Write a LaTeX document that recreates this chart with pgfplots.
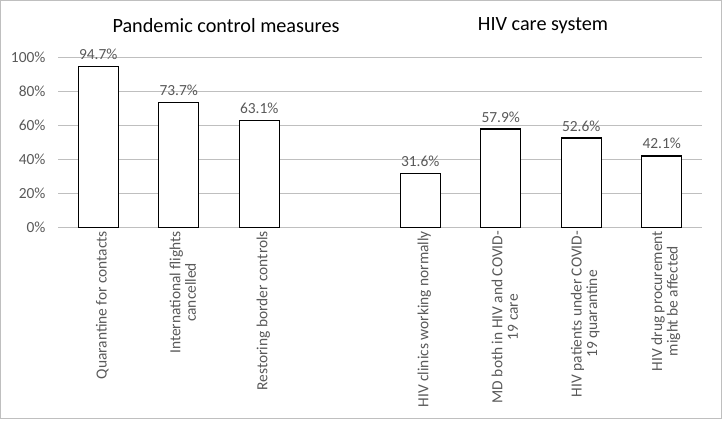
\documentclass[border=0pt]{standalone}
\usepackage{fontspec}
\setmainfont{Carlito}
\usepackage{pgfplots}
\pgfplotsset{compat=1.18}
\definecolor{txtgray}{HTML}{595959}
\definecolor{gridgray}{HTML}{BFBFBF}
\begin{document}
\begin{tikzpicture}
\useasboundingbox (-58bp,-193bp) rectangle (664bp,228bp);
\draw[gridgray,line width=1bp] (-57.5bp,-190.5bp) rectangle (663.5bp,227.5bp);
\begin{axis}[
    at={(0,0.5bp)}, anchor=south west,
    scale only axis,
    width=644bp, height=170bp,
    xmin=-0.5, xmax=7.5,
    ymin=0, ymax=100,
    ybar, bar width=0.5,
    axis line style={draw=none},
    ytick={0,20,40,60,80,100},
    ymajorgrids=true,
    grid style={draw=gridgray, line width=1.2bp},
    major tick length=0pt,
    xtick={0,1,2,4,5,6,7},
    xticklabels={{Quarantine for contacts},{International flights\\cancelled},{Restoring border controls},{HIV clinics working normally},{MD both in HIV and COVID-\\19 care},{HIV patients under COVID-\\19 quarantine},{HIV drug procurement\\might be affected}},
    xticklabel style={rotate=90, anchor=east, align=center, text=txtgray,
        font=\fontsize{15.5}{15.5}\selectfont, yshift=-4bp},
    yticklabel={\pgfmathprintnumber{\tick}\%},
    yticklabel style={text=txtgray, font=\fontsize{15.5}{16}\selectfont, xshift=-9bp},
    /pgf/number format/assume math mode=true,
    nodes near coords={\pgfmathprintnumber[fixed,fixed zerofill,precision=1]{\pgfplotspointmeta}\%},
    every node near coord/.append style={text=txtgray, font=\fontsize{15.5}{16}\selectfont, yshift=3bp},
    clip=false,
]
\addplot[draw=black, fill=white, line width=1.2bp] coordinates {
    (0,94.7) (1,73.7) (2,63.1) (4,31.6) (5,57.9) (6,52.6) (7,42.1)
};
\end{axis}
\node[font=\fontsize{20.3}{22}\selectfont] at (168bp,202bp) {Pandemic control measures};
\node[font=\fontsize{20.3}{22}\selectfont] at (485bp,202bp) {HIV care system};
\end{tikzpicture}
\end{document}
